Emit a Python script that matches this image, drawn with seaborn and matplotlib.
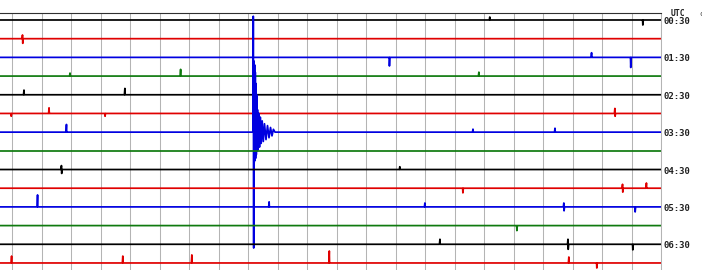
import numpy as np
import pandas as pd
import matplotlib
matplotlib.use("Agg")
import matplotlib.pyplot as plt
import seaborn as sns

# ---- data -------------------------------------------------------------
# 14 helicorder lines (30 min each), colours cycle black/red/blue/green
trace_colors = ["#000000", "#e00000", "#0000e0", "#0f7a0f"]
n_traces = 14
hour_labels = ["00:30", "01:30", "02:30", "03:30", "04:30", "05:30", "06:30"]
label_rows = [0, 2, 4, 6, 8, 10, 12]

# visible spikes per trace: (time in minutes, up amplitude, down amplitude)
# amplitudes in units of line spacing
spikes = {
    0: [(16.19, 0.16, 0.0), (21.37, 0.0, 0.27)],
    1: [(0.35, 0.20, 0.25)],
    2: [(12.78, 0.0, 0.46), (19.64, 0.25, 0.0), (20.96, 0.0, 0.54)],
    3: [(1.96, 0.16, 0.0), (5.71, 0.36, 0.0), (15.82, 0.21, 0.0)],
    4: [(0.40, 0.25, 0.0), (3.82, 0.34, 0.0)],
    5: [(-0.04, 0.0, 0.15), (1.25, 0.30, 0.0), (3.14, 0.0, 0.15), (20.43, 0.27, 0.15)],
    6: [(1.84, 0.41, 0.0), (15.62, 0.16, 0.0), (18.40, 0.21, 0.0)],
    7: [],
    8: [(1.67, 0.21, 0.21), (13.14, 0.15, 0.0)],
    9: [(15.27, 0.0, 0.25), (20.69, 0.21, 0.21), (21.50, 0.28, 0.0)],
    10: [(0.86, 0.64, 0.0), (8.71, 0.27, 0.0), (13.99, 0.21, 0.0), (18.70, 0.21, 0.21), (21.11, 0.0, 0.27)],
    11: [(17.10, 0.0, 0.27)],
    12: [(14.50, 0.27, 0.0), (18.84, 0.27, 0.27), (21.03, 0.0, 0.30)],
    13: [(-0.02, 0.37, 0.0), (3.75, 0.37, 0.0), (6.09, 0.43, 0.0), (10.75, 0.64, 0.0), (18.87, 0.32, 0.0), (19.81, 0.0, 0.27)],
}

# earthquake on the 03:30 line (trace 6)
eq_trace = 6
eq_t = [8.159, 8.169, 8.183, 8.193, 8.203, 8.214, 8.227, 8.237, 8.247, 8.261,
        8.271, 8.285, 8.295, 8.312, 8.329, 8.353, 8.380, 8.407, 8.437, 8.471,
        8.508, 8.549, 8.600, 8.651, 8.702, 8.753, 8.803, 8.851, 8.905]
eq_amp = [0.0, 6.2, -6.2, 3.8, -1.6, 3.6, -1.5, 3.2, -1.4, 2.6,
          -1.2, 2.0, -1.0, 1.2, -0.95, 1.0, -0.8, 0.8, -0.6, 0.6,
          -0.5, 0.45, -0.4, 0.35, -0.3, 0.25, -0.2, 0.15, 0.0]

t_start, t_end = -0.417, 22.0

# ---- build long-form table -------------------------------------------
rows = []
for i in range(n_traces):
    pts = [(t_start, 0.0), (t_end, 0.0)]
    for (t, up, dn) in spikes[i]:
        pts += [(t - 0.02, 0.0), (t - 0.004, up), (t + 0.004, -dn), (t + 0.02, 0.0)]
    if i == eq_trace:
        pts += list(zip(eq_t, eq_amp))
    pts.sort(key=lambda p: p[0])
    for order, (t, a) in enumerate(pts):
        rows.append({"trace": i, "order": order, "t": t, "y": -i + a})
df = pd.DataFrame(rows)

palette = {i: trace_colors[i % 4] for i in range(n_traces)}

# ---- draw --------------------------------------------------------------
sns.set_style("white")
fig = plt.figure(figsize=(7.02, 2.70), dpi=100)
ax = fig.add_axes([0.0, 0.0, 661.3 / 702, (270 - 12.5) / 270])

ax.set_xticks(range(0, 23))
ax.grid(axis="x", color="#b4b4b4", lw=0.75)
ax.grid(axis="y", visible=False)
ax.set_axisbelow(True)

sns.lineplot(data=df, x="t", y="y", hue="trace", units="trace", palette=palette,
             estimator=None, sort=False, legend=False, lw=1.25, ax=ax)

ax.set_xlim(t_start, t_end)
ax.set_ylim(-13.376, 0.401)
ax.set_xlabel("")
ax.set_ylabel("")
ax.set_xticklabels([])
ax.set_yticks([])
ax.tick_params(length=0)
for s in ["left", "bottom"]:
    ax.spines[s].set_visible(False)
ax.spines["top"].set_color("#303030")
ax.spines["top"].set_linewidth(0.8)
ax.spines["right"].set_color("#b4b4b4")
ax.spines["right"].set_linewidth(0.75)

font = dict(family="DejaVu Sans Mono", fontsize=6.5, fontweight="bold", color="#202020")
for lab, r in zip(hour_labels, label_rows):
    ax.text(t_end + 0.06, -r - 0.08, lab, ha="left", va="center", clip_on=False, **font)
ax.text(t_end + 0.30, 0.34, "UTC", ha="left", va="center", clip_on=False,
        family="DejaVu Sans Mono", fontsize=5.8, fontweight="bold", color="#202020")
fig.text(699 / 702, 1 - 14 / 270, "c", ha="left", va="center",
         family="DejaVu Sans Mono", fontsize=5, color="#303030")

fig.savefig("out.png", dpi=100)
